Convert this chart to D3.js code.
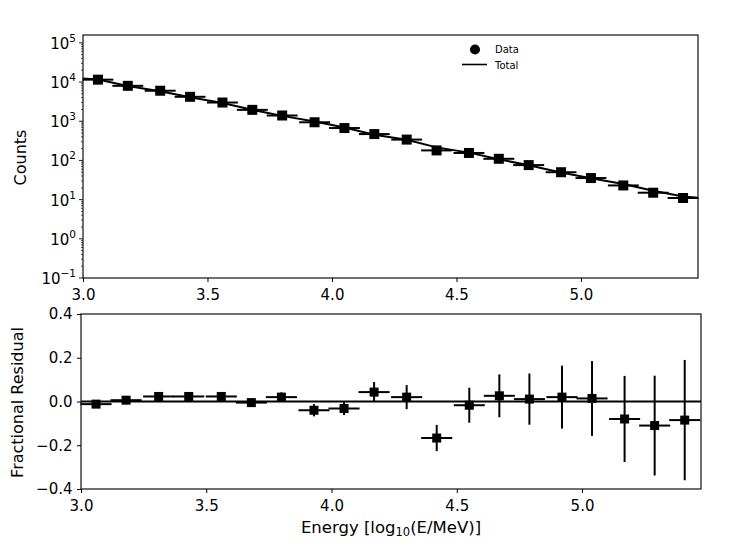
<!DOCTYPE html>
<html>
<head>
<meta charset="utf-8">
<script src="https://cdn.jsdelivr.net/npm/d3@7"></script>
<style>
  body { margin: 0; background: #fff; }
  text { font-family: "DejaVu Sans", sans-serif; fill: #000; }
</style>
</head>
<body>
<div id="chart"></div>
<script>
// bin centres in log10(E/MeV)
const energy = [3.06, 3.18, 3.31, 3.43, 3.56, 3.68, 3.80, 3.93, 4.05, 4.17,
                4.30, 4.42, 4.55, 4.67, 4.79, 4.92, 5.04, 5.17, 5.29, 5.41];
const binHalf = 0.062;
const counts = [11500, 8000, 6000, 4200, 3000, 1950, 1400, 940, 670, 470,
                340, 180, 155, 110, 76, 50, 35.5, 23, 15, 11];
const totalX = [3.0, 3.06, 3.18, 3.31, 3.43, 3.56, 3.68, 3.80, 3.93, 4.05, 4.17,
                4.30, 4.42, 4.55, 4.67, 4.79, 4.92, 5.04, 5.17, 5.29, 5.41, 5.47];
const totalY = [12300, 11600, 7950, 5850, 4100, 2930, 1960, 1370, 980, 690, 450,
                335, 215, 158, 107, 75, 49, 35, 25, 16.9, 12, 11.2];
const residual = [-0.012, 0.006, 0.023, 0.023, 0.023, -0.005, 0.02, -0.04, -0.032, 0.043,
                  0.02, -0.167, -0.017, 0.026, 0.011, 0.02, 0.014, -0.08, -0.11, -0.085];
const residualErr = [0.012, 0.01, 0.012, 0.012, 0.012, 0.014, 0.022, 0.028, 0.03, 0.046,
                     0.055, 0.06, 0.08, 0.098, 0.117, 0.144, 0.171, 0.197, 0.228, 0.275];
const xTicks = [3.0, 3.5, 4.0, 4.5, 5.0];
const logTicks = [-1, 0, 1, 2, 3, 4, 5];
const resTicks = [0.4, 0.2, 0.0, -0.2, -0.4];

const W = 733, H = 546;
const FS = 15;
const svg = d3.select("#chart").append("svg").attr("width", W).attr("height", H);

const pTop = { left: 83, right: 698, top: 35, bottom: 278 };
const pBot = { left: 81, right: 701, top: 314, bottom: 489 };

const xTop = d3.scaleLinear().domain([3.0, 5.47]).range([pTop.left, pTop.right]);
const yTop = d3.scaleLog().domain([0.1, Math.pow(10, 5.2)]).range([pTop.bottom, pTop.top]);
const xBot = d3.scaleLinear().domain([3.0, 5.475]).range([pBot.left, pBot.right]);
const yBot = d3.scaleLinear().domain([-0.4, 0.4]).range([pBot.bottom, pBot.top]);

// ---- top panel ----
const g1 = svg.append("g");
g1.append("rect").attr("x", pTop.left).attr("y", pTop.top)
  .attr("width", pTop.right - pTop.left).attr("height", pTop.bottom - pTop.top)
  .attr("fill", "none").attr("stroke", "#222").attr("stroke-width", 1.3);

// x axis
g1.append("g").attr("transform", `translate(0,${pTop.bottom})`)
  .call(d3.axisBottom(xTop).tickValues(xTicks).tickFormat(d3.format(".1f")).tickSizeOuter(0).tickSize(4))
  .call(g => g.select(".domain").remove())
  .selectAll("text").attr("font-size", FS).attr("font-family", "DejaVu Sans").attr("dy", "1.0em");

// y axis (log, with minor ticks)
const minor = [];
for (let e = -1; e < 5.2; e++) for (let k = 2; k <= 9; k++) {
  const v = k * Math.pow(10, e);
  if (Math.log10(v) < 5.2) minor.push(v);
}
const yAx = g1.append("g").attr("transform", `translate(${pTop.left},0)`);
yAx.selectAll("line.minor").data(minor).join("line")
  .attr("x1", -2).attr("x2", 0).attr("y1", d => yTop(d)).attr("y2", d => yTop(d))
  .attr("stroke", "#222").attr("stroke-width", 0.8);
yAx.selectAll("line.major").data(logTicks).join("line")
  .attr("x1", -4).attr("x2", 0).attr("y1", d => yTop(Math.pow(10, d))).attr("y2", d => yTop(Math.pow(10, d)))
  .attr("stroke", "#222").attr("stroke-width", 1);
const yl = yAx.selectAll("text.lab").data(logTicks).join("text")
  .attr("x", -7).attr("y", d => yTop(Math.pow(10, d)) + 6)
  .attr("text-anchor", "end").attr("font-size", FS);
yl.append("tspan").text("10");
yl.append("tspan").attr("dy", -7).attr("font-size", 10.5).text(d => d < 0 ? "\u2212" + Math.abs(d) : d);

g1.append("text").attr("transform", `translate(26,${(pTop.top + pTop.bottom) / 2 + 1}) rotate(-90)`)
  .attr("text-anchor", "middle").attr("font-size", 16).text("Counts");

// total model line
const line = d3.line().x((d, i) => xTop(totalX[i])).y(d => yTop(d));
g1.append("path").datum(totalY).attr("d", line)
  .attr("fill", "none").attr("stroke", "#000").attr("stroke-width", 2);

// data: horizontal bin bars + square markers
g1.selectAll("line.xerr").data(counts).join("line")
  .attr("x1", (d, i) => xTop(energy[i] - binHalf)).attr("x2", (d, i) => xTop(energy[i] + binHalf))
  .attr("y1", d => yTop(d)).attr("y2", d => yTop(d))
  .attr("stroke", "#000").attr("stroke-width", 2);
g1.selectAll("rect.pt").data(counts).join("rect")
  .attr("x", (d, i) => xTop(energy[i]) - 5).attr("y", d => yTop(d) - 5)
  .attr("width", 10).attr("height", 10).attr("fill", "#000");

// legend
const lg = g1.append("g");
lg.append("path").attr("d", d3.symbol(d3.symbolCircle, 80)()).attr("transform", "translate(475,49.5)").attr("fill", "#000");
lg.append("text").attr("x", 495).attr("y", 53).attr("font-size", 10).text("Data");
lg.append("line").attr("x1", 462).attr("x2", 487).attr("y1", 64.5).attr("y2", 64.5)
  .attr("stroke", "#000").attr("stroke-width", 1.6);
lg.append("text").attr("x", 495).attr("y", 68.5).attr("font-size", 10).text("Total");

// ---- residual panel ----
const g2 = svg.append("g");
g2.append("rect").attr("x", pBot.left).attr("y", pBot.top)
  .attr("width", pBot.right - pBot.left).attr("height", pBot.bottom - pBot.top)
  .attr("fill", "none").attr("stroke", "#222").attr("stroke-width", 1.3);

g2.append("g").attr("transform", `translate(0,${pBot.bottom})`)
  .call(d3.axisBottom(xBot).tickValues(xTicks).tickFormat(d3.format(".1f")).tickSizeOuter(0).tickSize(4))
  .call(g => g.select(".domain").remove())
  .selectAll("text").attr("font-size", FS).attr("font-family", "DejaVu Sans").attr("dy", "1.0em");

g2.append("g").attr("transform", `translate(${pBot.left},0)`)
  .call(d3.axisLeft(yBot).tickValues(resTicks).tickFormat(d => d3.format(".1f")(d).replace("-", "\u2212")).tickSizeOuter(0).tickSize(4))
  .call(g => g.select(".domain").remove())
  .selectAll("text").attr("font-size", FS).attr("font-family", "DejaVu Sans").attr("dx", "-0.1em");

g2.append("text").attr("transform", `translate(23,${(pBot.top + pBot.bottom) / 2 + 1}) rotate(-90)`)
  .attr("text-anchor", "middle").attr("font-size", 16).text("Fractional Residual");

const xl = g2.append("text").attr("x", 391).attr("y", 533).attr("text-anchor", "middle").attr("font-size", 16.5);
xl.append("tspan").text("Energy [log");
xl.append("tspan").attr("font-size", 11.5).attr("dy", 3).text("10");
xl.append("tspan").attr("dy", -3).text("(E/MeV)]");

// zero line
g2.append("line").attr("x1", xBot(3.0)).attr("x2", xBot(5.475))
  .attr("y1", yBot(0)).attr("y2", yBot(0)).attr("stroke", "#000").attr("stroke-width", 2);

g2.selectAll("line.xerr").data(residual).join("line")
  .attr("x1", (d, i) => xBot(energy[i] - binHalf)).attr("x2", (d, i) => xBot(energy[i] + binHalf))
  .attr("y1", d => yBot(d)).attr("y2", d => yBot(d))
  .attr("stroke", "#000").attr("stroke-width", 2);
g2.selectAll("line.yerr").data(residual).join("line")
  .attr("x1", (d, i) => xBot(energy[i])).attr("x2", (d, i) => xBot(energy[i]))
  .attr("y1", (d, i) => yBot(d - residualErr[i])).attr("y2", (d, i) => yBot(d + residualErr[i]))
  .attr("stroke", "#000").attr("stroke-width", 2);
g2.selectAll("rect.pt").data(residual).join("rect")
  .attr("x", (d, i) => xBot(energy[i]) - 4.5).attr("y", d => yBot(d) - 4.5)
  .attr("width", 9).attr("height", 9).attr("fill", "#000");
</script>
</body>
</html>
